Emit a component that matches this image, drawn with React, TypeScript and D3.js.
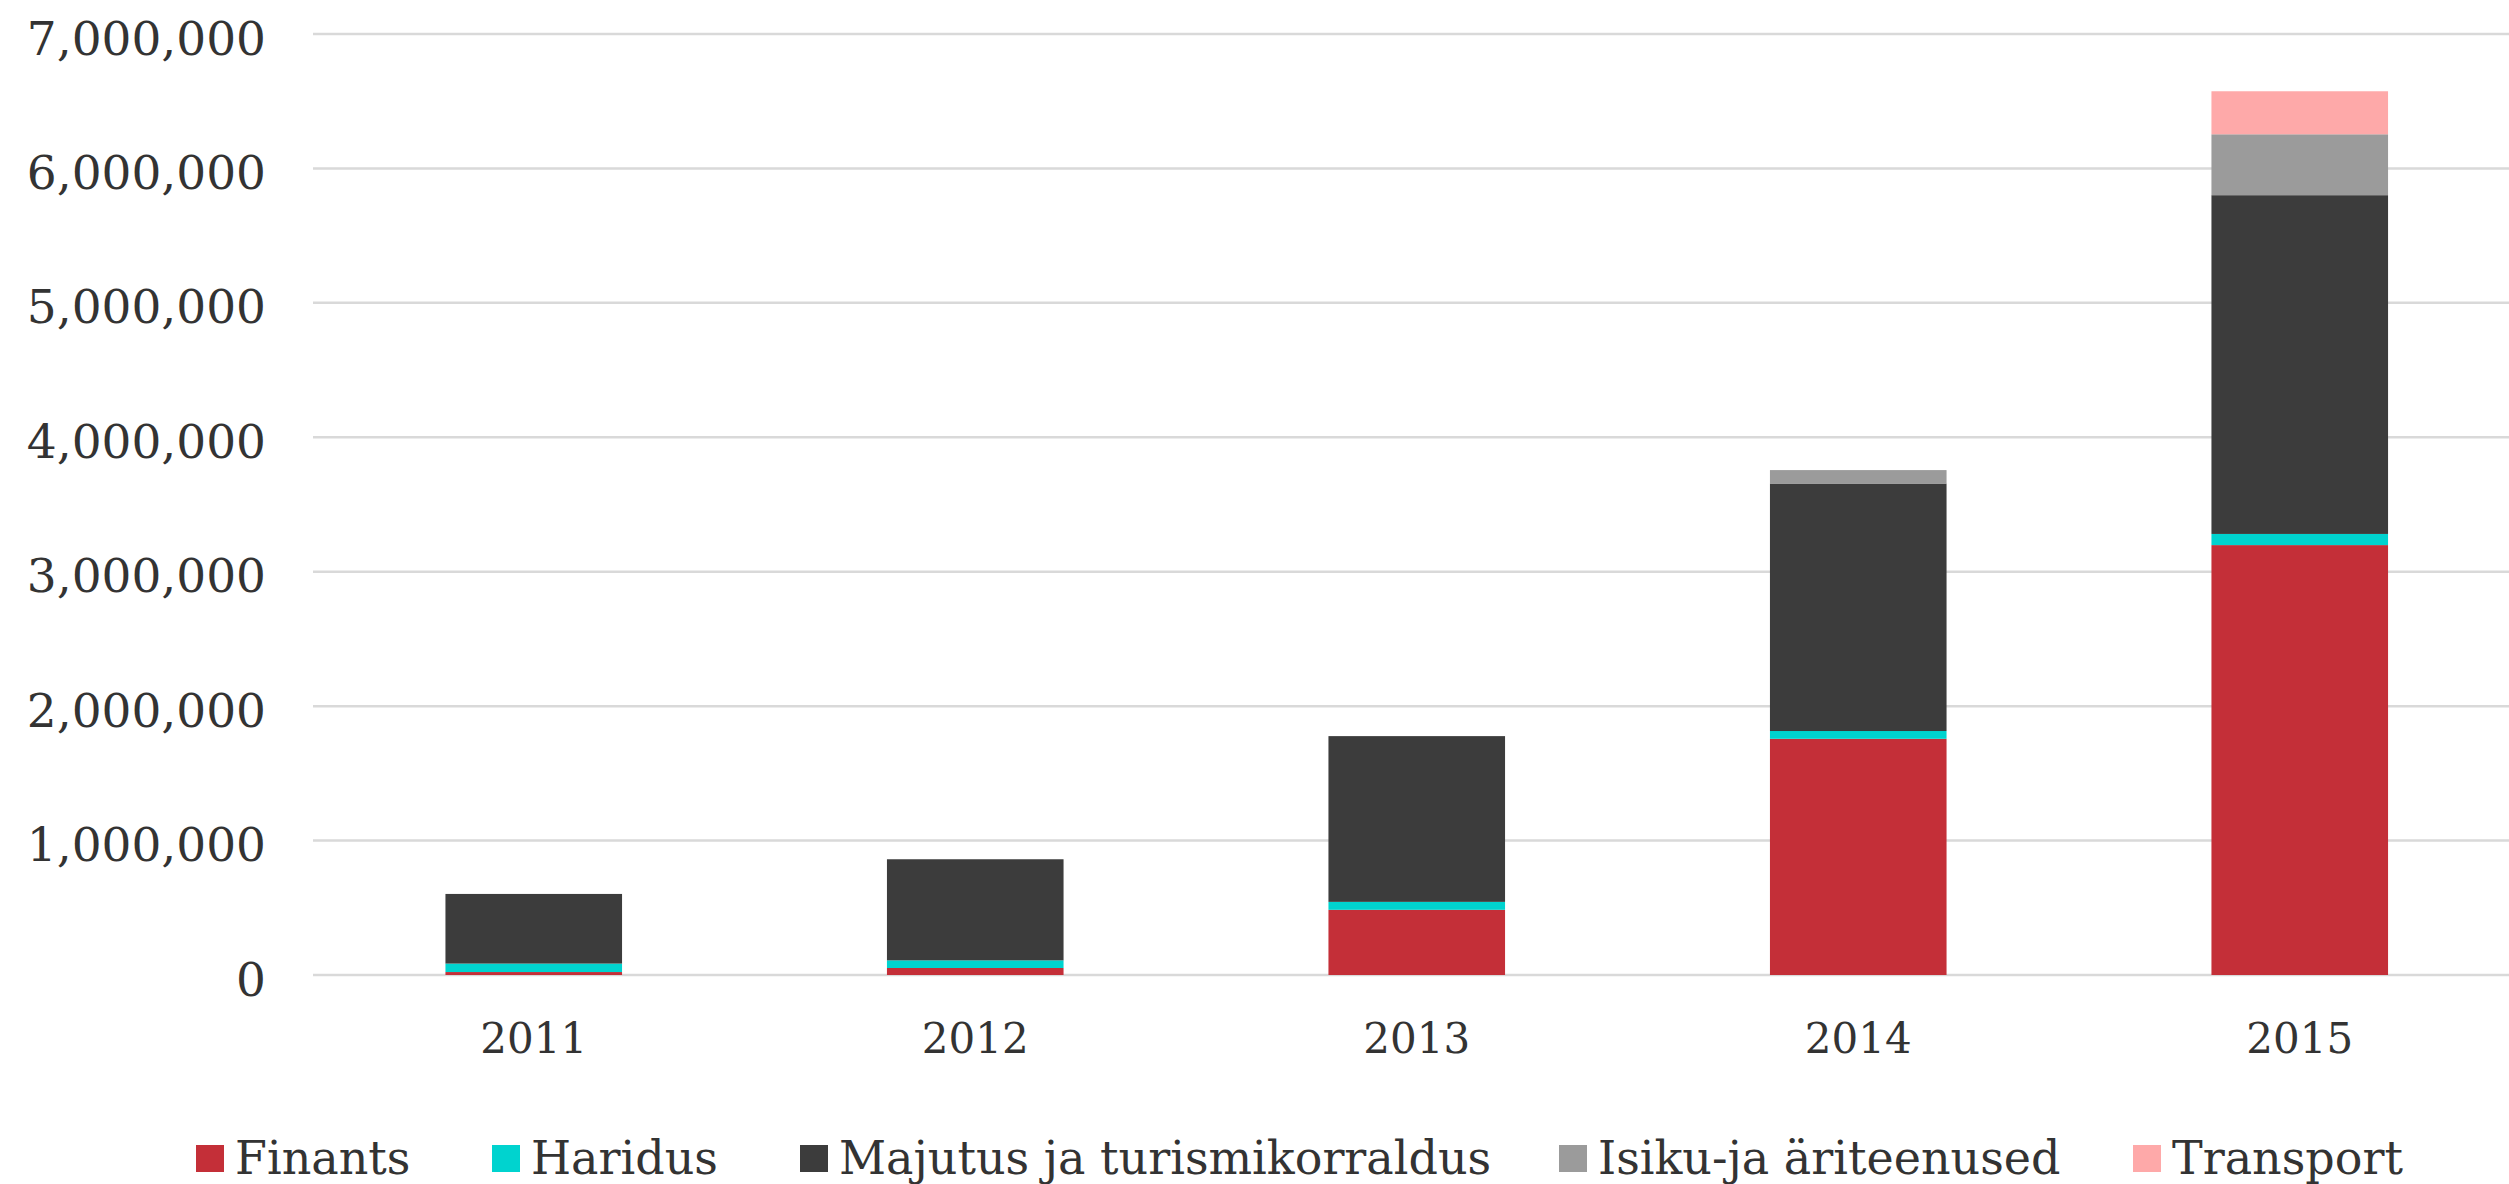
import React from "react";
import * as d3 from "d3";

const years = ["2011", "2012", "2013", "2014", "2015"];
const seriesNames = ["Finants", "Haridus", "Majutus ja turismikorraldus", "Isiku-ja äriteenused", "Transport"];
const finants = [22000, 52000, 485000, 1757000, 3198000];
const haridus = [63000, 57000, 59000, 58000, 83000];
const majutus = [518000, 752000, 1233000, 1841000, 2520000];
const isiku = [0, 0, 0, 100000, 453000];
const transport = [0, 0, 0, 0, 320000];
const colors = ["#C42F38", "#00D3CF", "#3C3C3C", "#9B9B9B", "#FEA9A9"];
const yTicks = [0, 1000000, 2000000, 3000000, 4000000, 5000000, 6000000, 7000000];

const W = 2509;
const H = 1184;
const FONT = "'DejaVu Serif', serif";
const legendX = [196, 492, 800, 1559, 2133];

export default function App() {
  const rows = years.map((y, i) => ({
    year: y,
    [seriesNames[0]]: finants[i],
    [seriesNames[1]]: haridus[i],
    [seriesNames[2]]: majutus[i],
    [seriesNames[3]]: isiku[i],
    [seriesNames[4]]: transport[i],
  }));
  const stack = d3.stack<any>().keys(seriesNames)(rows);

  const x = d3.scaleBand().domain(years).range([313, 2520.5]).paddingInner(0.6).paddingOuter(0.3);
  const y = d3.scaleLinear().domain([0, 7000000]).range([975, 34]);
  const fmt = d3.format(",");

  return (
    <svg width={W} height={H} style={{ position: "absolute", left: 0, top: 0, background: "#fff" }}>
      <rect x={0} y={0} width={W} height={H} fill="#fff" />
      {yTicks.map((t) => (
        <g key={t}>
          <line x1={313} x2={W} y1={y(t)} y2={y(t)} stroke="#d9d9d9" strokeWidth={2.5} />
          <text x={266} y={y(t) + 4} textAnchor="end" dominantBaseline="central" fontFamily={FONT} fontSize={47} fill="#333">
            {fmt(t)}
          </text>
        </g>
      ))}
      {stack.map((s, si) => (
        <g key={s.key} fill={colors[si]}>
          {s.map((d, i) => {
            const h = y(d[0]) - y(d[1]);
            if (h <= 0) return null;
            return <rect key={i} x={x(years[i])} width={x.bandwidth()} y={y(d[1])} height={h} />;
          })}
        </g>
      ))}
      {years.map((yr) => (
        <text key={yr} x={(x(yr) as number) + x.bandwidth() / 2} y={1053} textAnchor="middle" fontFamily={FONT} fontSize={42} fill="#333">
          {yr}
        </text>
      ))}
      {seriesNames.map((n, i) => (
        <g key={n}>
          <rect x={legendX[i]} y={1145} width={28} height={27} fill={colors[i]} />
          <text x={legendX[i] + 39} y={1174} fontFamily={FONT} fontSize={46} fill="#333">
            {n}
          </text>
        </g>
      ))}
    </svg>
  );
}
